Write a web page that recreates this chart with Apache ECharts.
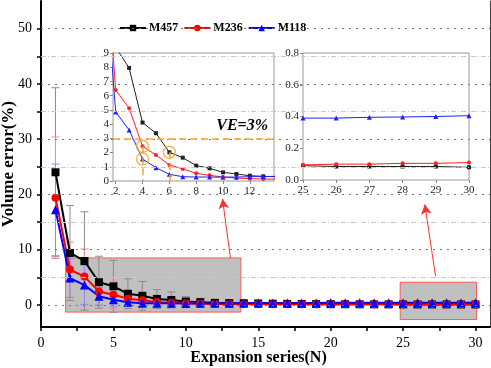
<!DOCTYPE html>
<html>
<head>
<meta charset="utf-8">
<script src="https://cdn.jsdelivr.net/npm/echarts@6/dist/echarts.min.js"></script>
<style>
  html, body { margin: 0; padding: 0; background: #fff; }
  #chart { width: 491px; height: 368px; }
</style>
</head>
<body>
<div id="chart"></div>
<script>
// expansion series N
const xValues = [1, 2, 3, 4, 5, 6, 7, 8, 9, 10, 11, 12, 13, 14, 15, 16, 17, 18, 19, 20, 21, 22, 23, 24, 25, 26, 27, 28, 29, 30]

// volume error (%)
const m457 = [24.0, 9.4, 7.95, 4.11, 3.36, 2.02, 1.64, 1.08, 0.89, 0.61, 0.49, 0.37, 0.33, 0.3, 0.26, 0.22, 0.19, 0.17, 0.15, 0.13, 0.12, 0.11, 0.1, 0.095, 0.09, 0.085, 0.085, 0.085, 0.085, 0.08]
const m236 = [19.4, 6.4, 5.12, 2.44, 1.83, 1.13, 0.85, 0.54, 0.4, 0.28, 0.21, 0.16, 0.14, 0.13, 0.12, 0.12, 0.11, 0.11, 0.1, 0.1, 0.1, 0.1, 0.095, 0.095, 0.095, 0.1, 0.1, 0.105, 0.105, 0.11]
const m118 = [17.2, 4.86, 3.59, 1.55, 0.94, 0.47, 0.3, 0.28, 0.28, 0.27, 0.28, 0.3, 0.31, 0.33, 0.34, 0.35, 0.35, 0.36, 0.36, 0.37, 0.37, 0.38, 0.38, 0.385, 0.39, 0.39, 0.395, 0.397, 0.4, 0.405]

// error bar half widths
const m457Err = [15.3, 8.6, 8.9, 4.7, 4.7, 2.7, 2.6, 1.7, 1.45, 0.9, 0.7, 0.5, 0.4, 0.3, 0, 0, 0, 0, 0, 0, 0, 0, 0, 0, 0, 0, 0, 0, 0, 0]
const m236Err = [11.0, 5.0, 5.0, 2.5, 2.5, 1.3, 1.0, 0.7, 0.5, 0.4, 0.3, 0.2, 0.2, 0.15, 0, 0, 0, 0, 0, 0, 0, 0, 0, 0, 0, 0, 0, 0, 0, 0]
const m118Err = [8.3, 3.5, 3.55, 1.6, 1.3, 0.6, 0.5, 0.4, 0.3, 0.3, 0.2, 0.2, 0.2, 0.15, 0, 0, 0, 0, 0, 0, 0, 0, 0, 0, 0, 0, 0, 0, 0, 0]

// ticks and grid
const xTickLabels = [0, 5, 10, 15, 20, 25, 30]
const xTicks = [0, 2.5, 5, 7.5, 10, 12.5, 15, 17.5, 20, 22.5, 25, 27.5, 30]
const yTickLabels = [0, 10, 20, 30, 40, 50]
const yTicks = [0, 5, 10, 15, 20, 25, 30, 35, 40, 45, 50]
const yMajorGrid = [0, 10, 20, 30, 40, 50]
const yMinorGrid = [5, 15, 25, 35, 45]
const inset1XLabels = [2, 4, 6, 8, 10, 12]

// zoom boxes and arrows (data coords)
const zoomBoxes = [[[1.7, -1.3], [13.8, 8.5]], [[24.8, -2.65], [30.07, 4.1]]]
const arrows = [[[13.08, 8.5], [12.53, 19.2]], [[27.24, 5.2], [26.5, 18.2]]]

// inset 1 annotations
const veLevel = 3
const highlightPoints = [[4, 2.44], [4, 1.55], [6, 2.02]]

const chart = echarts.init(document.getElementById('chart'))

const serif = 'Liberation Serif, Times New Roman, serif'
const colors = { m457: '#000000', m236: '#ff0000', m118: '#0000ff' }
const errColors = { m457: '#8c8c8c', m236: '#ff8a8a', m118: '#8a8aff' }
const orange = '#f5a623'

const pairs = (vals) => xValues.map((x, i) => [x, vals[i]])
const errData = (vals, errs) => xValues.map((x, i) => [x, vals[i], errs[i]])

const errorSeries = (vals, errs, color) => ({
  type: 'custom',
  xAxisIndex: 0,
  yAxisIndex: 0,
  z: 2,
  silent: true,
  data: errData(vals, errs),
  renderItem: function (params, api) {
    const e = api.value(2)
    if (!e) return null
    const x = api.value(0)
    const y = api.value(1)
    const top = api.coord([x, y + e])
    const bot = api.coord([x, y - e])
    const w = 4
    const style = { stroke: color, lineWidth: 1 }
    return {
      type: 'group',
      children: [
        { type: 'line', shape: { x1: top[0], y1: top[1], x2: bot[0], y2: bot[1] }, style },
        { type: 'line', shape: { x1: top[0] - w, y1: top[1], x2: top[0] + w, y2: top[1] }, style },
        { type: 'line', shape: { x1: bot[0] - w, y1: bot[1], x2: bot[0] + w, y2: bot[1] }, style }
      ]
    }
  }
})

const mainLine = (name, vals, color, symbol, size) => ({
  name,
  type: 'line',
  xAxisIndex: 0,
  yAxisIndex: 0,
  z: 3,
  data: pairs(vals),
  symbol,
  symbolSize: size,
  itemStyle: { color },
  lineStyle: { color, width: 2 },
  emphasis: { disabled: true }
})

const insetLine = (name, vals, color, symbol, size, axis) => ({
  name,
  type: 'line',
  xAxisIndex: axis,
  yAxisIndex: axis + 1,
  z: 4,
  clip: true,
  data: pairs(vals),
  symbol,
  symbolSize: size,
  itemStyle: { color },
  lineStyle: { color, width: 1 },
  emphasis: { disabled: true }
})

const insetX = (idx, min, max, extra) => Object.assign({
  type: 'value',
  gridIndex: idx,
  min,
  max,
  axisLine: { show: false },
  axisTick: { show: true, length: 3, lineStyle: { color: '#888' } },
  axisLabel: { fontFamily: serif, fontSize: 11, color: '#222', margin: 5 },
  splitLine: { show: false }
}, extra)

const insetY = (idx, min, max, extra) => Object.assign({
  type: 'value',
  gridIndex: idx,
  min,
  max,
  axisLine: { show: false },
  axisTick: { show: true, length: 3, lineStyle: { color: '#888' } },
  axisLabel: { fontFamily: serif, fontSize: 11, color: '#222', margin: 4 },
  splitLine: { show: false }
}, extra)

const option = {
  backgroundColor: '#fff',
  animation: false,
  legend: {
    data: ['M457', 'M236', 'M118'],
    left: 114,
    top: 17,
    itemWidth: 26,
    itemHeight: 8,
    itemGap: 5,
    textStyle: { fontFamily: serif, fontSize: 12, fontWeight: 'bold', color: '#000', padding: [0, 0, 0, -2] }
  },
  grid: [
    { left: 41, top: 1, width: 449, height: 326, outerBoundsMode: 'none' },
    { left: 113, top: 53, width: 161, height: 128, outerBoundsMode: 'none', show: true, backgroundColor: 'transparent', borderColor: '#999', borderWidth: 1 },
    { left: 303, top: 53, width: 166, height: 127, outerBoundsMode: 'none', show: true, backgroundColor: 'transparent', borderColor: '#999', borderWidth: 1 }
  ],
  xAxis: [
    {
      type: 'value',
      gridIndex: 0,
      min: 0,
      max: 31,
      name: 'Expansion series(N)',
      nameLocation: 'middle',
      nameMoveOverlap: false,
      nameGap: 23,
      nameTextStyle: { fontFamily: serif, fontSize: 16, fontWeight: 'bold', color: '#000', padding: [0, 14, 0, 0] },
      axisLine: { show: true, onZero: false, lineStyle: { color: '#000', width: 2 } },
      axisTick: { show: true, customValues: xTicks, length: 4, lineStyle: { color: '#000', width: 1.5 } },
      axisLabel: { customValues: xTickLabels, fontFamily: serif, fontSize: 14, color: '#000', margin: 9 },
      splitLine: { show: false }
    },
    insetX(1, 1.8, 13.8, { axisLabel: { customValues: inset1XLabels, fontFamily: serif, fontSize: 11, color: '#222', margin: 5 }, axisTick: { customValues: inset1XLabels, length: 3, lineStyle: { color: '#888' } } }),
    insetX(2, 25, 30, { interval: 1 })
  ],
  yAxis: [
    {
      type: 'value',
      gridIndex: 0,
      min: -4,
      max: 55,
      name: 'Volume error(%)',
      nameLocation: 'middle',
      nameMoveOverlap: false,
      nameGap: 24,
      nameTextStyle: { fontFamily: serif, fontSize: 17, fontWeight: 'bold', color: '#000' },
      axisLine: { show: true, onZero: false, lineStyle: { color: '#000', width: 2 } },
      axisTick: { show: true, customValues: yTicks, length: 4, lineStyle: { color: '#000', width: 1.5 } },
      axisLabel: { customValues: yTickLabels, fontFamily: serif, fontSize: 14, color: '#000', margin: 9 },
      splitLine: { show: false }
    },
    {
      type: 'value',
      gridIndex: 0,
      position: 'right',
      min: -4,
      max: 55,
      axisLine: { show: true, onZero: false, lineStyle: { color: '#444', width: 1 } },
      axisTick: { show: false },
      axisLabel: { show: false },
      splitLine: { show: false }
    },
    insetY(1, 0, 9, { interval: 1 }),
    insetY(2, 0, 0.8, { interval: 0.2, axisLabel: { fontFamily: serif, fontSize: 11, color: '#222', margin: 4, formatter: (v) => v.toFixed(1) } })
  ],
  series: [
    // gridlines
    {
      type: 'line',
      xAxisIndex: 0,
      yAxisIndex: 0,
      z: 0,
      data: [],
      silent: true,
      markLine: {
        silent: true,
        symbol: 'none',
        label: { show: false },
        animation: false,
        data: yMajorGrid.map(v => ({ yAxis: v, lineStyle: { color: '#777', width: 1, type: [2, 5] } }))
          .concat(yMinorGrid.map(v => ({ yAxis: v, lineStyle: { color: '#c8c8c8', width: 1, type: [5, 2, 1, 2] } })))
      }
    },
    // zoom boxes + arrows
    {
      type: 'line',
      xAxisIndex: 0,
      yAxisIndex: 0,
      z: 1,
      data: [],
      silent: true,
      markArea: {
        silent: true,
        itemStyle: { color: '#c0c0c0', borderColor: '#ff5a5a', borderWidth: 1, opacity: 1 },
        data: zoomBoxes.map(b => [{ coord: b[0] }, { coord: b[1] }])
      },
      markLine: {
        silent: true,
        symbol: ['none', 'arrow'],
        symbolSize: [8, 10],
        label: { show: false },
        lineStyle: { color: '#ff3030', width: 1, type: 'solid' },
        data: arrows.map(a => [{ coord: a[0] }, { coord: a[1] }])
      }
    },
    errorSeries(m457, m457Err, errColors.m457),
    errorSeries(m236, m236Err, errColors.m236),
    errorSeries(m118, m118Err, errColors.m118),
    mainLine('M457', m457, colors.m457, 'rect', 8),
    mainLine('M236', m236, colors.m236, 'circle', 8),
    mainLine('M118', m118, colors.m118, 'triangle', 9),
    // inset 1
    insetLine('M457', m457, '#222', 'rect', 4, 1),
    insetLine('M236', m236, '#ff2020', 'circle', 4, 1),
    insetLine('M118', m118, '#2020ff', 'triangle', 5, 1),
    {
      type: 'scatter',
      xAxisIndex: 1,
      yAxisIndex: 2,
      z: 5,
      silent: true,
      data: highlightPoints,
      symbol: 'circle',
      symbolSize: 12,
      itemStyle: { color: 'transparent', borderColor: orange, borderWidth: 1.5 },
      markLine: {
        silent: true,
        symbol: 'none',
        lineStyle: { color: orange, width: 1.5, type: [7, 4] },
        label: { show: false },
        data: [
          {
            yAxis: veLevel,
            label: {
              show: true,
              position: 'insideEndTop',
              formatter: 'VE=3%',
              fontFamily: serif,
              fontSize: 16,
              fontStyle: 'italic',
              fontWeight: 'bold',
              color: '#000',
              distance: [6, 4]
            }
          },
          [{ coord: [4, 2.44] }, { coord: [4, 0] }],
          [{ coord: [6, 2.02] }, { coord: [6, 0] }]
        ]
      }
    },
    // inset 2
    insetLine('M457', m457, '#222', 'rect', 4, 2),
    insetLine('M236', m236, '#ff2020', 'circle', 4, 2),
    insetLine('M118', m118, '#2020ff', 'triangle', 5, 2)
  ]
}

chart.setOption(option)
</script>
</body>
</html>
